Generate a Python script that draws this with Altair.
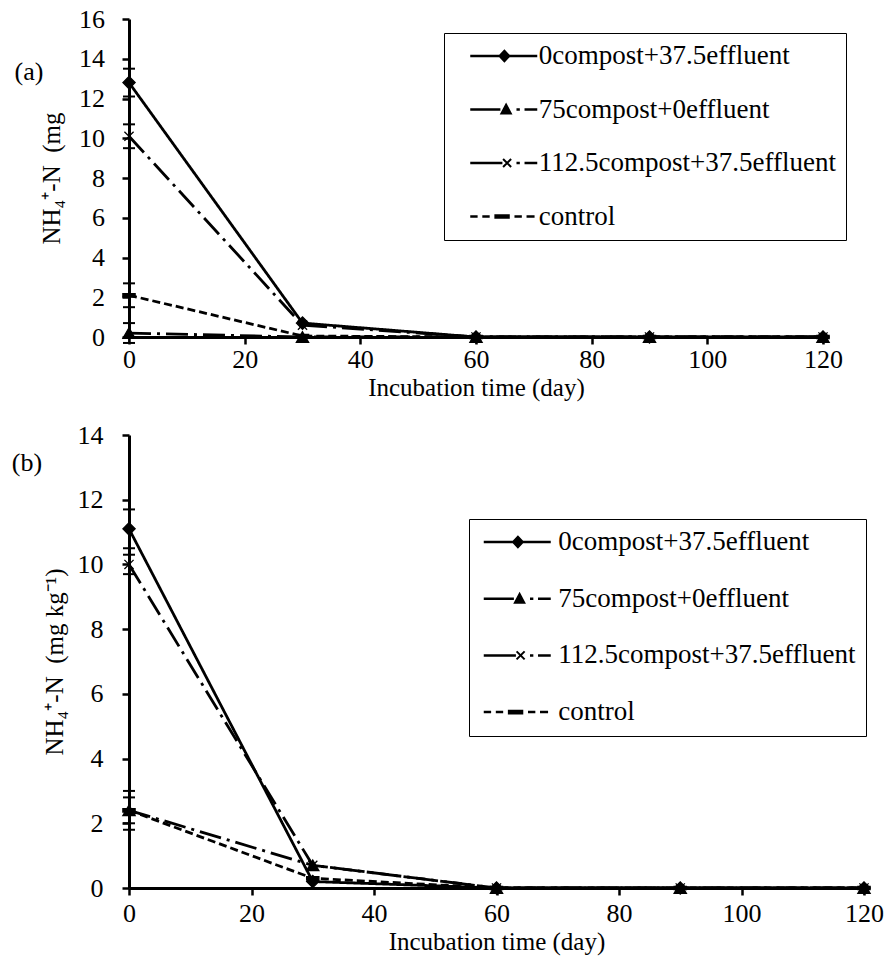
import math
import altair as alt
import pandas as pd

FONT = "Liberation Serif"

series = ["0compost+37.5effluent", "75compost+0effluent",
          "112.5compost+37.5effluent", "control"]
days = [0, 30, 60, 90, 120]

# panel (a)
a_0c = [12.8, 0.7, 0.0, 0.0, 0.0]
a_75c = [0.2, 0.0, 0.0, 0.0, 0.0]
a_112c = [10.1, 0.6, 0.0, 0.0, 0.0]
a_ctrl = [2.1, 0.05, 0.0, 0.0, 0.0]
a_err0 = [0.7, 0.5, 0.6, 0.6]   # error at day 0, series order

# panel (b)
b_0c = [11.1, 0.2, 0.0, 0.0, 0.0]
b_75c = [2.4, 0.7, 0.0, 0.0, 0.0]
b_112c = [10.0, 0.7, 0.0, 0.0, 0.0]
b_ctrl = [2.4, 0.3, 0.0, 0.0, 0.0]
b_err0 = [0.6, 0.4, 0.3, 0.6]

x_ticks = [0, 20, 40, 60, 80, 100, 120]

dashes = [[1, 0], [22, 6, 3, 6], [22, 6, 3, 6], [8, 4]]
X_PATH = "M-0.75,-0.75L0.75,0.75M0.75,-0.75L-0.75,0.75"
DASH_PATH = "M-1,-0.28H1V0.28H-1Z"
marker_shapes = ["diamond", "triangle-up", X_PATH, DASH_PATH]


# legend symbols drawn as filled outlines (unit = half symbol width)
def hseg(x0, x1, t=0.038):
    return f"M{x0},{-t}H{x1}V{t}H{x0}Z"


def diag(x0, y0, x1, y1, t=0.03):
    dx, dy = x1 - x0, y1 - y0
    L = math.hypot(dx, dy)
    nx, ny = -dy / L * t, dx / L * t
    p = [(x0 + nx, y0 + ny), (x1 + nx, y1 + ny), (x1 - nx, y1 - ny), (x0 - nx, y0 - ny)]
    return "M" + "L".join(f"{a:.3f},{b:.3f}" for a, b in p) + "Z"


LEG_PATHS = [
    hseg(-1, 1) + "M0.02,-0.2L0.21,0L0.02,0.2L-0.17,0Z",
    hseg(-1, -0.1) + "M0.07,-0.21L0.26,0.15L-0.12,0.15Z" + hseg(0.38, 0.48) + hseg(0.62, 1),
    hseg(-1, -0.04) + diag(-0.02, -0.12, 0.22, 0.12) + diag(0.22, -0.12, -0.02, 0.12)
    + hseg(0.38, 0.48) + hseg(0.62, 1),
    hseg(-1, -0.78) + hseg(-0.64, -0.42) + hseg(-0.28, 0.18, 0.07) + hseg(0.32, 0.54)
    + hseg(0.68, 0.92),
]


def long_df(vals):
    rows = []
    for s, vs in zip(series, vals):
        for d, v in zip(days, vs):
            rows.append({"series": s, "day": d, "value": v})
    return pd.DataFrame(rows)


def err_df(vals, errs):
    rows = []
    for s, vs, e in zip(series, vals, errs):
        rows.append({"series": s, "day": days[0], "lo": vs[0] - e, "hi": vs[0] + e})
    return pd.DataFrame(rows)


def panel(vals, errs, ytitle, ymax, w, h, lx, ly, rowpad, symoff, laboff,
          tag, tagx, tagy, ylabpad, ytitlepad, xlabpad, xtitlepad):
    df = long_df(vals)
    edf = err_df(vals, errs)
    cap = pd.concat([
        edf[["series", "day", "lo"]].rename(columns={"lo": "value"}),
        edf[["series", "day", "hi"]].rename(columns={"hi": "value"}),
    ])

    xax = alt.Axis(values=x_ticks, title="Incubation time (day)", labelPadding=xlabpad,
                   titlePadding=xtitlepad, labelFlush=False, labelOverlap=False)
    yax = alt.Axis(values=list(range(0, ymax + 1, 2)), title=ytitle,
                   labelPadding=ylabpad, titlePadding=ytitlepad, labelOverlap=False)
    X = alt.X("day:Q", scale=alt.Scale(domain=[0, 120], nice=False), axis=xax)
    Y = alt.Y("value:Q", scale=alt.Scale(domain=[0, ymax], nice=False), axis=yax)

    lines = alt.Chart(df).mark_line(color="black", strokeWidth=2.8).encode(
        x=X, y=Y,
        strokeDash=alt.StrokeDash("series:N", scale=alt.Scale(domain=series, range=dashes),
                                  legend=None),
        order="day:Q",
    )
    bars = alt.Chart(edf).mark_rule(color="black", strokeWidth=1.5).encode(
        x=X, y=alt.Y("lo:Q", scale=alt.Scale(domain=[0, ymax], nice=False), axis=yax),
        y2="hi:Q",
    )
    caps = alt.Chart(cap).mark_point(shape="stroke", size=144, color="black",
                                     strokeWidth=2, filled=False, opacity=1).encode(x=X, y=Y)
    pts = alt.Chart(df).mark_point(filled=True, color="black", stroke="black",
                                   strokeWidth=1.3, size=150, opacity=1).encode(
        x=X, y=Y,
        shape=alt.Shape("series:N", scale=alt.Scale(domain=series, range=marker_shapes),
                        legend=None),
    )
    leg = alt.Chart(df).mark_point(filled=True, color="black", opacity=0).encode(
        x=X, y=Y,
        shape=alt.Shape(
            "series:N",
            scale=alt.Scale(domain=series, range=LEG_PATHS),
            legend=alt.Legend(
                title=None, orient="none", legendX=lx, legendY=ly,
                strokeColor="black", fillColor="white", padding=10,
                labelFont=FONT, labelFontSize=27, labelColor="black", labelLimit=600,
                symbolSize=4489, symbolStrokeWidth=2.5, symbolFillColor="black",
                symbolOpacity=1, clipHeight=26,
                rowPadding=rowpad, symbolOffset=symoff, labelOffset=laboff,
            ),
        ),
    )
    tagc = alt.Chart(pd.DataFrame({"t": [tag]})).mark_text(
        font=FONT, fontSize=26, color="black", align="center", baseline="middle"
    ).encode(x=alt.value(tagx), y=alt.value(tagy), text="t:N")

    return alt.layer(lines, bars, caps, pts, leg, tagc).resolve_scale(
        shape="independent").properties(width=w, height=h)


top = panel([a_0c, a_75c, a_112c, a_ctrl], a_err0, "NH\u2084\u207a-N \u00a0(mg", 16,
            694, 318, 315, 14, 26.5, 14.75, 0, "(a)", -100, 53, 17.5, 14, 2, 3)
bottom = panel([b_0c, b_75c, b_112c, b_ctrl], b_err0,
               "NH\u2084\u207a-N \u00a0(mg kg\u207b\u00b9)", 14,
               735, 453, 340, 84, 29.7, 3.25, 6, "(b)", -102, 28, 19, 10, 5, 3)

chart = alt.concat(top, bottom, columns=1, spacing=22).properties(
    padding={"left": 11, "top": 6, "right": 2, "bottom": 2}
).configure(font=FONT).configure_view(stroke=None).configure_axis(
    domainColor="black", domainWidth=3, tickColor="black", tickWidth=2.5, tickSize=7,
    labelColor="black", labelFont=FONT, labelFontSize=26, titleColor="black",
    titleFont=FONT, titleFontSize=25, titleFontWeight="normal", grid=False,
)

chart.save("out.html", embed_options={"renderer": "svg", "actions": False})
